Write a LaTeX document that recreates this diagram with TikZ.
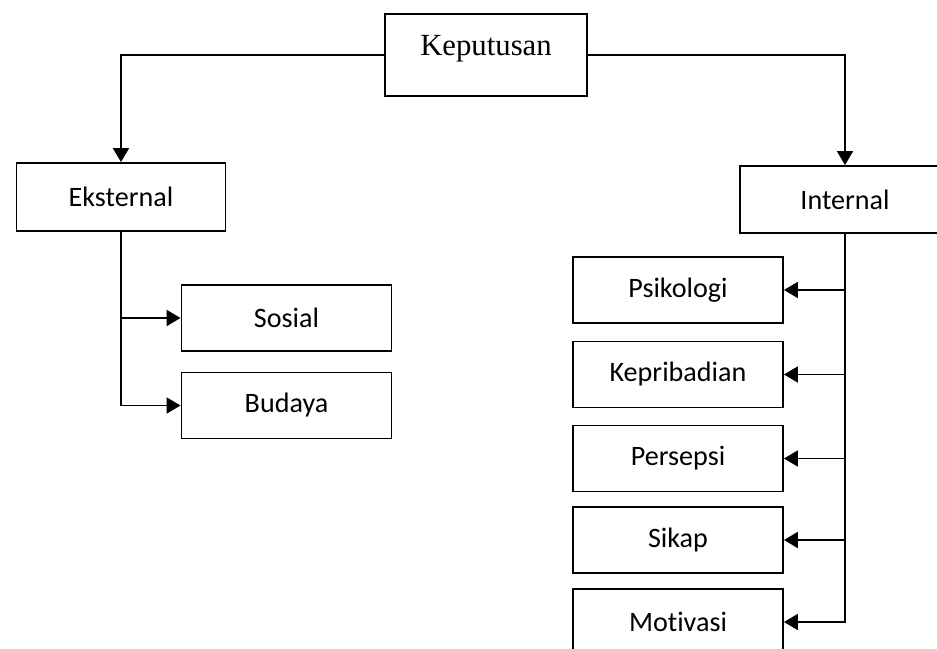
\documentclass[tikz,border=0pt]{standalone}
\usepackage{fontspec}
\setmainfont{Liberation Serif}
\newfontfamily\boxfont[Ligatures=NoCommon]{Carlito}
\usetikzlibrary{arrows.meta}

\begin{document}
\begin{tikzpicture}[x=0.02cm, y=-0.02cm, line width=1.1pt,
  box/.style={draw, inner sep=0pt, minimum width=4.2cm, minimum height=1.32cm,
    font=\boxfont\fontsize{16}{19}\selectfont},
  arr/.style={-{Triangle[length=2.8mm,width=3.2mm]}}]
  \useasboundingbox (0,0) rectangle (937,649);
  \clip (0,0) rectangle (937,649);
  \node[box, minimum width=4.04cm, minimum height=1.64cm, text height=9pt, text depth=9pt,
    font=\fontsize{17.5}{20}\selectfont] (kep) at (486,55) {Keputusan};
  \node[box, minimum width=4.18cm, minimum height=1.36cm] (eks) at (121,197) {Eksternal};
  \node[box, minimum height=1.34cm] (int) at (845,199.5) {Internal};
  \node[box] (sos) at (286.5,318) {Sosial};
  \node[box] (bud) at (286.5,405.5) {Budaya};
  \node[box] (psi) at (678,290) {Psikologi};
  \node[box] (kpr) at (678,374.5) {Kepribadian};
  \node[box] (per) at (678,458.5) {Persepsi};
  \node[box] (sik) at (678,540) {Sikap};
  \node[box] (mot) at (678,622) {Motivasi};
  \draw[arr] (kep.west) -| (eks.north);
  \draw[arr] (kep.east) -| (int.north);
  \draw[arr] (eks.south) |- (sos.west);
  \draw[arr] (eks.south) |- (bud.west);
  \draw[arr] (int.south) |- (psi.east);
  \draw[arr] (int.south) |- (kpr.east);
  \draw[arr] (int.south) |- (per.east);
  \draw[arr] (int.south) |- (sik.east);
  \draw[arr] (int.south) |- (mot.east);
\end{tikzpicture}
\end{document}
